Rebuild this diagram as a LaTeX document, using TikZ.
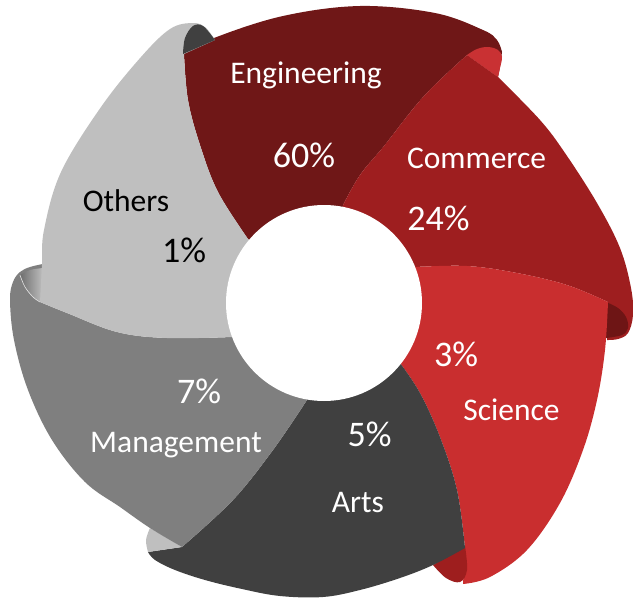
\documentclass[tikz,border=0pt]{standalone}
\usepackage{fontspec}
\setmainfont{Carlito}
\definecolor{eng}{HTML}{6F1717}
\definecolor{com}{HTML}{9E1E1F}
\definecolor{sci}{HTML}{C92E2F}
\definecolor{art}{HTML}{404040}
\definecolor{man}{HTML}{7F7F7F}
\definecolor{oth}{HTML}{BFBFBF}
\definecolor{foldA}{HTML}{C93133}
\definecolor{foldB}{HTML}{6E1515}
\definecolor{foldC}{HTML}{9E1E1E}
\definecolor{foldE}{HTML}{6E6E6E}
\begin{document}
\begin{tikzpicture}[x=1pt,y=-1pt,
  lab/.style={font=\fontsize{31.5}{36}\selectfont, text=white, anchor=base, inner sep=0pt},
  pct/.style={font=\fontsize{36}{40}\selectfont, text=white, anchor=base, inner sep=0pt},
  sm/.style={smooth, tension=0.6}]
\useasboundingbox (0,0) rectangle (633,600);
\coordinate (C) at (324,303);

% Engineering
\fill[eng] (C) -- plot[sm] coordinates {(248,239) (218,192) (200,145) (188,100) (184,54)}
  -- plot[sm] coordinates {(184,54) (214,38) (283,16) (360,6) (435,13) (483,30) (497,40) (502,52)}
  -- (500,67) -- (498,77) -- (467,55)
  -- plot[sm] coordinates {(467,55) (424,96) (384,146) (360,175) (343,205)} -- cycle;

% Commerce
\fill[com] (C) -- plot[sm] coordinates {(343,205) (360,175) (384,146) (424,96) (467,55)} -- (498,77)
  -- plot[sm] coordinates {(498,77) (540,120) (565,153) (597,203) (620,248) (631,288) (633,315) (628,333) (618,339) (607,340)}
  -- (608,302)
  -- plot[sm] coordinates {(608,302) (567,285) (517,273) (467,266) (415,267)} -- cycle;

% fold at Commerce tip
\fill[foldA] plot[sm] coordinates {(467,55) (477,49) (488,47) (498,50) (502,57) (500,68) (498,77)} -- cycle;
% fold at Science tip
\fill[foldB] plot[sm] coordinates {(606,302) (618,308) (626,317) (628,328) (622,335) (606,338)} -- cycle;

% Science
\fill[sci] (C) -- plot[sm] coordinates {(415,267) (467,266) (517,273) (567,285) (608,302)}
  -- plot[sm] coordinates {(608,302) (605,350) (597,400) (583,450) (560,503) (527,550) (490,577) (463,584)} -- (465,548)
  -- plot[sm] coordinates {(465,548) (457,490) (440,437) (420,393) (400,363)} -- cycle;

% fold at Arts tip
\fill[foldC] (465,546) -- plot[sm] coordinates {(433,565) (446,578) (460,582) (467,570) (465,546)} -- cycle;

% Arts
\fill[art] (C) -- plot[sm] coordinates {(400,363) (420,393) (440,437) (457,490) (465,548)}
  -- plot[sm] coordinates {(465,548) (433,565) (400,578) (360,590) (323,597) (280,596) (242,589) (205,580) (175,570) (155,560) (148,552)}
  -- (182,547)
  -- plot[sm] coordinates {(182,547) (233,500) (273,450) (307,400)} -- cycle;

% fold at Management tip
\fill[oth] (150,528) -- (182,547) -- (148,552) -- plot[sm] coordinates {(148,552) (146,540) (150,528)} -- cycle;

% Management
\fill[man] (C) -- plot[sm] coordinates {(307,400) (273,450) (233,500) (182,547)}
  -- plot[sm] coordinates {(182,547) (150,528) (120,507) (85,482) (52,440) (28,390) (14,340) (10,300) (13,282) (20,272) (30,267) (43,264)}
  -- (40,302)
  -- plot[sm] coordinates {(40,302) (67,313) (117,332) (167,338) (232,337)} -- cycle;

% fold at Others tip
\shade[left color=foldE, right color=oth] plot[sm] coordinates {(20,275) (30,270) (43,268)} -- (41,302)
  -- plot[sm] coordinates {(41,302) (33,297) (25,287) (20,275)} -- cycle;
\draw[white!80!gray, line width=0.6pt] plot[sm] coordinates {(20,275) (25,287) (33,297) (40,302)};

% Others
\fill[oth] (C) -- plot[sm] coordinates {(232,337) (167,338) (117,332) (67,313) (40,302)}
  -- plot[sm] coordinates {(40,302) (42,265) (44,230) (61,172) (101,107) (141,57) (170,29) (192,23) (205,27) (215,40)}
  -- (184,54)
  -- plot[sm] coordinates {(184,54) (188,100) (200,145) (218,192) (248,239)} -- cycle;

% fold at Engineering tip
\fill[art] plot[sm] coordinates {(183,54) (185,38) (193,26) (203,26) (215,40)} -- cycle;

% hole
\fill[white] (C) circle[radius=98pt];

% labels
\node[lab] (tEng) at (306,83) {Engineering};
\node[pct] (pEng) at (304,167) {60\%};
\node[lab] (tCom) at (476.5,168) {Commerce};
\node[pct] (pCom) at (438.5,230) {24\%};
\node[lab,text=black] (tOth) at (126,211) {Others};
\node[pct,text=black] (pOth) at (184,262) {1\%};
\node[pct] (pSci) at (456,366) {3\%};
\node[lab] (tSci) at (511.5,420) {Science};
\node[pct] (pMan) at (199,403) {7\%};
\node[lab] (tMan) at (176,452) {Management};
\node[pct] (pArt) at (369.5,446) {5\%};
\node[lab] (tArt) at (358,512) {Arts};
\end{tikzpicture}
\end{document}
